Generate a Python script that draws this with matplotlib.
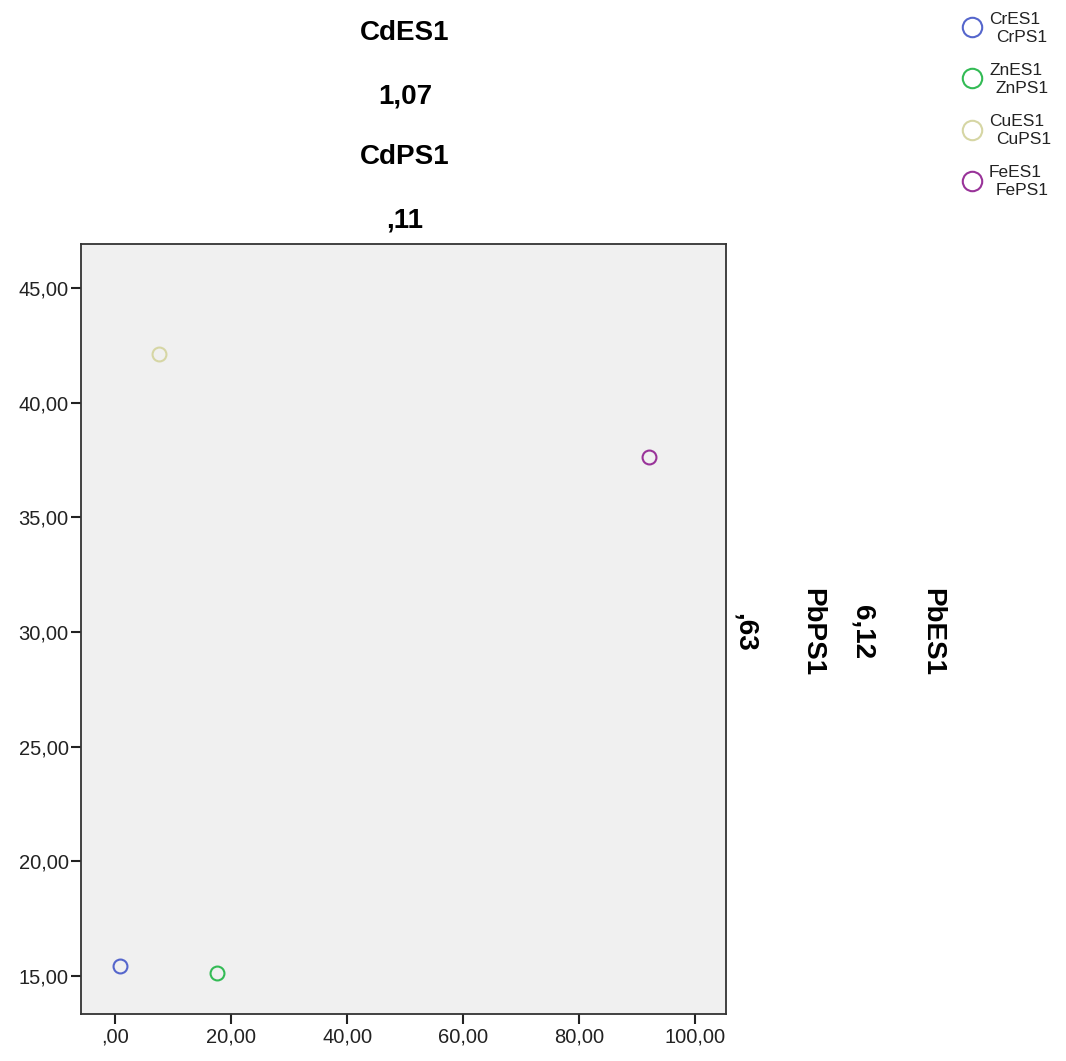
import matplotlib.pyplot as plt
from matplotlib.lines import Line2D

plt.rcParams['font.family'] = ['Liberation Sans', 'DejaVu Sans']

series = ['Cr', 'Zn', 'Cu', 'Fe']
es_vals = [0.86, 17.6, 7.6, 92.1]
ps_vals = [15.44, 15.13, 42.11, 37.62]
colors = ['#5566cc', '#33bb55', '#d6d6a4', '#993399']

cd_es, cd_ps = '1,07', ',11'
pb_es, pb_ps = '6,12', ',63'

xticks = [0, 20, 40, 60, 80, 100]
yticks = [15, 20, 25, 30, 35, 40, 45]


def comma(v):
    s = '%.2f' % v
    s = s.replace('.', ',')
    if s.startswith('0,'):
        s = s[1:]
    return s


W, H = 1066, 1061
fig = plt.figure(figsize=(W / 100, H / 100), dpi=100)
ax = fig.add_axes([81 / W, 1 - 1014 / H, (726 - 81) / W, (1014 - 244) / H])
ax.set_facecolor('#f0f0f0')

for x, y, c in zip(es_vals, ps_vals, colors):
    ax.plot(x, y, 'o', mfc='none', mec=c, ms=10, mew=1.5)

ax.set_xlim(-5.86, 105.3)
ax.set_ylim(13.34, 46.92)
ax.set_xticks(xticks)
ax.set_yticks(yticks)
ax.set_xticklabels([comma(v) for v in xticks])
ax.set_yticklabels([comma(v) for v in yticks])
ax.tick_params(direction='out', length=7, width=1.5, labelsize=14.5,
               colors='#222222', pad=2)
ax.tick_params(axis='x', pad=3)
for sp in ax.spines.values():
    sp.set_color('#333333')
    sp.set_linewidth(1.3)

# header labels (title block)
for txt, ypx in zip(['CdES1', cd_es, 'CdPS1', cd_ps], [33, 96, 157, 220]):
    fig.text(405 / W, 1 - ypx / H, txt, ha='center', va='center',
             fontsize=20, fontweight='bold')

# right side labels, rotated
for txt, xpx in zip(['PbES1', pb_es, 'PbPS1', pb_ps], [932, 862, 812, 745]):
    fig.text(xpx / W, 1 - 632 / H, txt, ha='center', va='center',
             fontsize=20, fontweight='bold', rotation=270)

# legend, laid out by hand (two-line labels)
for i, (s, c) in enumerate(zip(series, colors)):
    yc = 27 + 51.3 * i
    fig.add_artist(Line2D([972 / W], [1 - yc / H], ls='none', marker='o', mfc='none',
                          mec=c, ms=14, mew=1.5, transform=fig.transFigure))
    fig.text(989 / W, 1 - (yc - 8) / H, s + 'ES1', ha='left', va='center',
             fontsize=12.5, color='#222222')
    fig.text(996 / W, 1 - (yc + 10) / H, s + 'PS1', ha='left', va='center',
             fontsize=12.5, color='#222222')

fig.savefig('out.png', dpi=100)
